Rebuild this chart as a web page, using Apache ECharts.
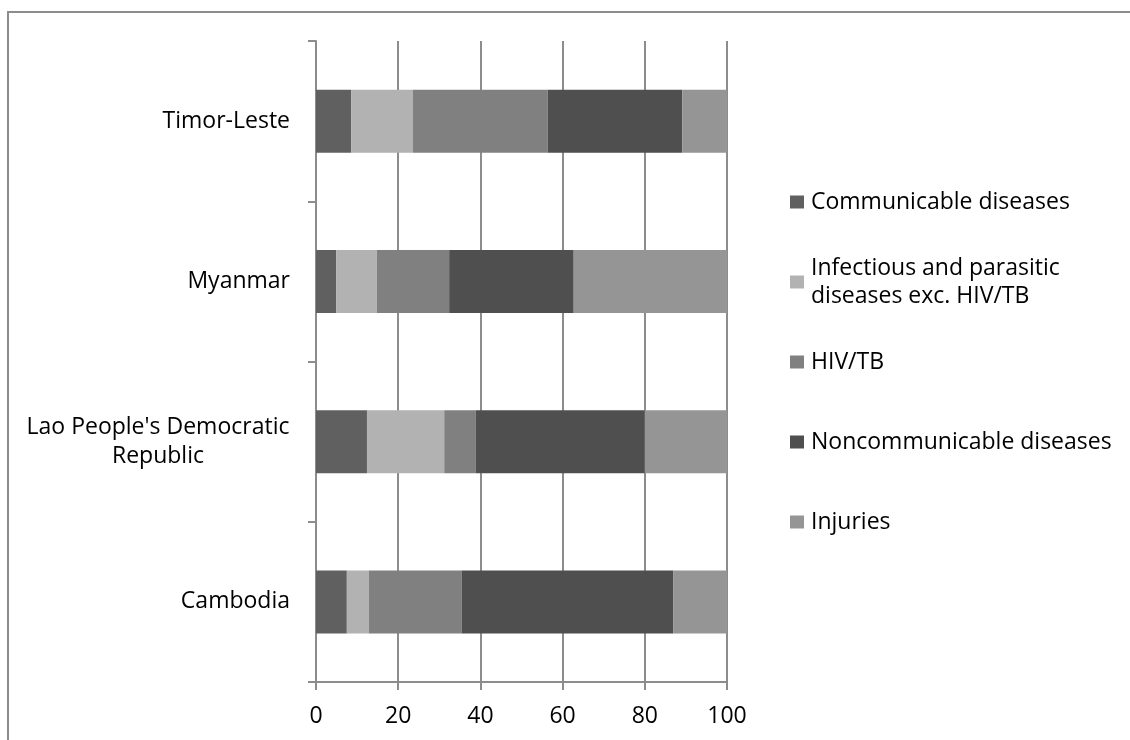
<!DOCTYPE html>
<html>
<head>
<meta charset="utf-8">
<script src="https://cdn.jsdelivr.net/npm/echarts@6/dist/echarts.min.js"></script>
<style>
  html, body { margin: 0; padding: 0; background: #fff; overflow: hidden; }
  .frame {
    position: absolute;
    left: 7px;
    top: 11px;
    width: 1300px;
    height: 900px;
    border: 2px solid #8c8c8c;
  }
  #chart { position: absolute; left: 0; top: 0; width: 1130px; height: 740px; }
</style>
</head>
<body>
<div class="frame"></div>
<div id="chart"></div>
<script>
// data (percent of deaths)
const countries = ['Cambodia', "Lao People's Democratic Republic", 'Myanmar', 'Timor-Leste']
const communicable = [7.5, 12.4, 4.9, 8.6]
const infectious = [5.4, 18.8, 9.9, 15.0]
const hivTb = [22.5, 7.7, 17.6, 32.8]
const noncommunicable = [51.5, 41.1, 30.3, 32.7]
const injuries = [13.1, 20.0, 37.3, 10.9]
const xTicks = [0, 20, 40, 60, 80, 100]

const seriesNames = [
  'Communicable diseases',
  'Infectious and parasitic diseases exc. HIV/TB',
  'HIV/TB',
  'Noncommunicable diseases',
  'Injuries'
]
const seriesData = [communicable, infectious, hivTb, noncommunicable, injuries]
const colors = ['#606060', '#b2b2b2', '#808080', '#4f4f4f', '#959595']

const font = 'Open Sans'
const gridColor = '#8c8c8c'

// one legend per entry so they sit at the same spacing as the original
const legends = seriesNames.map(function (name, i) {
  const center = 202 + 80 * i
  const twoLines = name.length > 30
  return {
    orient: 'vertical',
    left: 790,
    top: twoLines ? center - 42 : center - 14,
    padding: 0,
    itemWidth: 14,
    itemHeight: 13,
    itemGap: 0,
    icon: 'rect',
    data: [name],
    selectedMode: false,
    formatter: function (n) {
      return n === seriesNames[1] ? 'Infectious and parasitic\ndiseases exc. HIV/TB' : n
    },
    textStyle: {
      fontFamily: font,
      fontSize: 23,
      color: '#000',
      lineHeight: 28,
      padding: twoLines ? [28, 0, 0, 2] : [0, 0, 0, 2]
    }
  }
})

const chart = echarts.init(document.getElementById('chart'), null, { renderer: 'canvas' })
chart.setOption({
  animation: false,
  color: colors,
  grid: { left: 316, right: 403, top: 41, bottom: 58 },
  legend: legends,
  xAxis: {
    type: 'value',
    min: 0,
    max: 100,
    interval: 20,
    axisLine: { show: true, lineStyle: { color: gridColor, width: 2 } },
    axisTick: { show: true, length: 8, lineStyle: { color: gridColor, width: 2 } },
    splitLine: { show: true, lineStyle: { color: gridColor, width: 2 } },
    axisLabel: {
      fontFamily: font,
      fontSize: 23,
      color: '#000',
      margin: 23,
      formatter: function (v) { return xTicks.indexOf(v) >= 0 ? String(v) : '' }
    }
  },
  yAxis: {
    type: 'category',
    data: countries,
    axisLine: { show: true, lineStyle: { color: gridColor, width: 2 } },
    axisTick: { show: true, length: 8, lineStyle: { color: gridColor, width: 2 } },
    splitLine: { show: false },
    axisLabel: {
      fontFamily: font,
      fontSize: 23,
      color: '#000',
      margin: 26,
      lineHeight: 29,
      formatter: function (v) {
        if (v.indexOf('Lao') === 0) {
          return "{c|Lao People's Democratic}\n{c|Republic}"
        }
        return v
      },
      rich: {
        c: { width: 264, align: 'center', fontFamily: font, fontSize: 23, lineHeight: 29, color: '#000' }
      }
    }
  },
  series: seriesNames.map(function (name, i) {
    return {
      name: name,
      type: 'bar',
      stack: 'total',
      barWidth: 63,
      data: seriesData[i],
      itemStyle: { color: colors[i] }
    }
  })
})
</script>
</body>
</html>
